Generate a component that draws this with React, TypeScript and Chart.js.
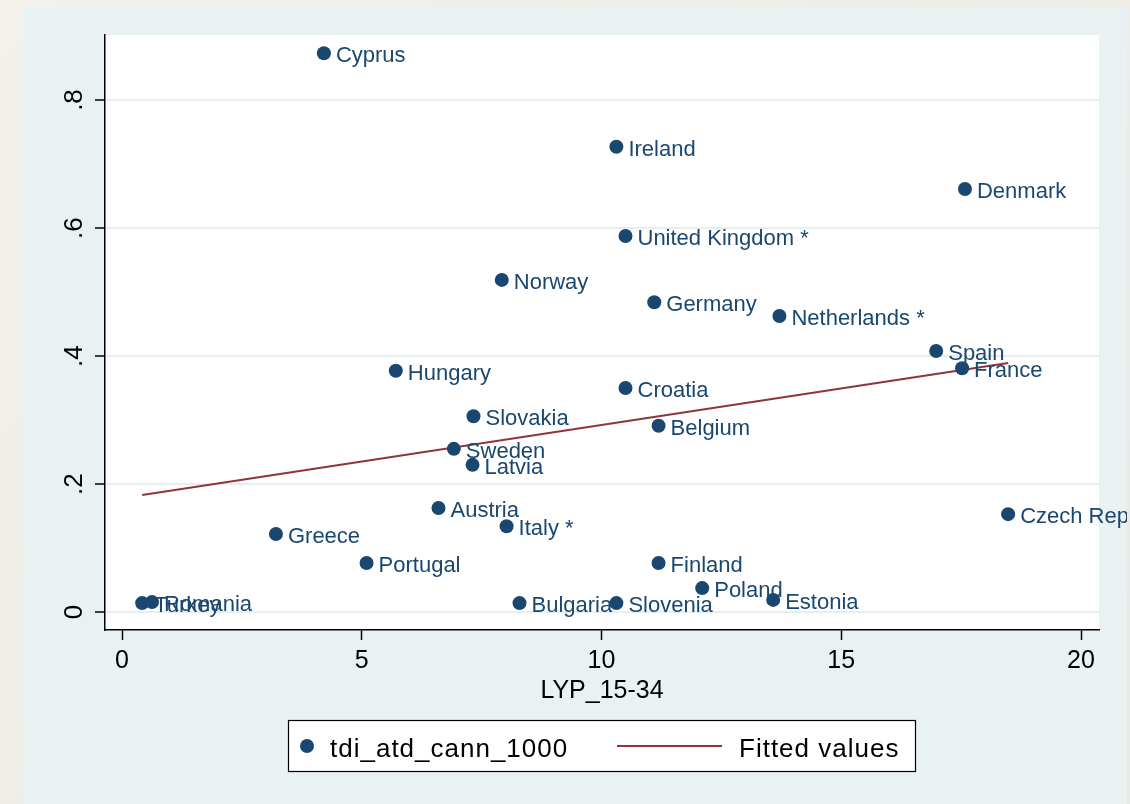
import React, { useEffect, useRef } from "react";
import { Chart, registerables } from "chart.js";

Chart.register(...registerables);

const countries = [
  "Cyprus", "Ireland", "Denmark", "United Kingdom *", "Norway", "Germany",
  "Netherlands *", "Spain", "France", "Hungary", "Croatia", "Slovakia",
  "Belgium", "Sweden", "Latvia", "Austria", "Italy *", "Greece",
  "Czech Republic", "Portugal", "Finland", "Poland", "Estonia", "Bulgaria",
  "Slovenia", "Turkey", "Romania",
];
const lypValues = [
  4.21, 10.31, 17.58, 10.5, 7.92, 11.1, 13.71, 16.98, 17.52, 5.71, 10.5, 7.33,
  11.19, 6.92, 7.31, 6.6, 8.02, 3.21, 18.48, 5.1, 11.19, 12.1, 13.58, 8.29,
  10.31, 0.42, 0.625,
];
const tdiValues = [
  0.873, 0.727, 0.661, 0.5875, 0.519, 0.484, 0.4625, 0.408, 0.381, 0.377, 0.35,
  0.306, 0.291, 0.255, 0.23, 0.1625, 0.134, 0.122, 0.153, 0.0766, 0.0766,
  0.0375, 0.019, 0.014, 0.014, 0.014, 0.0156,
];
const fittedX = [0.42, 18.48];
const fittedY = [0.183, 0.389];
const xTickValues = [0, 5, 10, 15, 20];
const yTickValues = [0, 0.2, 0.4, 0.6, 0.8];
const yTickLabels = ["0", ".2", ".4", ".6", ".8"];
const xAxisTitle = "LYP_15-34";
const legendLabels = ["tdi_atd_cann_1000", "Fitted values"];

const NAVY = "#1a476f";
const MAROON = "#90353b";
const FONT = '"Liberation Sans", Arial, Helvetica, sans-serif';

const W = 1130;
const H = 804;

const customDraw = {
  id: "customDraw",
  beforeDatasetsDraw(chart: any) {
    const { ctx, chartArea } = chart;
    // nothing here; background handled in beforeDraw
  },
  beforeDraw(chart: any) {
    const { ctx, chartArea } = chart;
    ctx.save();
    ctx.fillStyle = "#ffffff";
    ctx.fillRect(chartArea.left, chartArea.top, chartArea.right - chartArea.left, chartArea.bottom - chartArea.top);
    ctx.restore();
  },
  afterDraw(chart: any) {
    const { ctx } = chart;
    const xs = chart.scales.x;
    const ys = chart.scales.y;
    ctx.save();
    // point labels
    ctx.beginPath();
    ctx.rect(0, 0, 1127, H);
    ctx.clip();
    ctx.font = `22px ${FONT}`;
    ctx.fillStyle = NAVY;
    ctx.textAlign = "left";
    ctx.textBaseline = "alphabetic";
    countries.forEach((name, i) => {
      const px = xs.getPixelForValue(lypValues[i]);
      const py = ys.getPixelForValue(tdiValues[i]);
      ctx.fillText(name, px + 12, py + 9);
    });
    ctx.restore();

    ctx.save();
    ctx.fillStyle = "#000";
    // x tick labels
    ctx.font = `25px ${FONT}`;
    ctx.textAlign = "center";
    ctx.textBaseline = "alphabetic";
    xTickValues.forEach((v) => {
      ctx.fillText(String(v), xs.getPixelForValue(v), 668);
    });
    // x title
    ctx.fillText(xAxisTitle, (chart.chartArea.left + chart.chartArea.right) / 2, 698);
    // y tick labels rotated
    ctx.font = `26px ${FONT}`;
    yTickValues.forEach((v, i) => {
      const py = ys.getPixelForValue(v);
      ctx.save();
      ctx.translate(82, py);
      ctx.rotate(-Math.PI / 2);
      ctx.textAlign = "center";
      ctx.fillText(yTickLabels[i], 0, 0);
      ctx.restore();
    });
    ctx.restore();

    // legend
    ctx.save();
    ctx.fillStyle = "#ffffff";
    ctx.fillRect(288, 720, 628, 52);
    ctx.strokeStyle = "#000";
    ctx.lineWidth = 1.2;
    ctx.strokeRect(288.5, 720.5, 627, 51);
    ctx.fillStyle = NAVY;
    ctx.beginPath();
    ctx.arc(307, 746, 7, 0, Math.PI * 2);
    ctx.fill();
    ctx.strokeStyle = MAROON;
    ctx.lineWidth = 2;
    ctx.beginPath();
    ctx.moveTo(617, 746);
    ctx.lineTo(722, 746);
    ctx.stroke();
    ctx.fillStyle = "#000";
    ctx.font = `26px ${FONT}`;
    try {
      (ctx as any).letterSpacing = "1px";
    } catch (e) {}
    ctx.textAlign = "left";
    ctx.textBaseline = "alphabetic";
    ctx.fillText(legendLabels[0], 330, 757);
    ctx.fillText(legendLabels[1], 739, 757);
    ctx.restore();
  },
};

export default function App() {
  const canvasRef = useRef<HTMLCanvasElement | null>(null);

  useEffect(() => {
    document.body.style.margin = "0";
    const canvas = canvasRef.current;
    if (!canvas) return;
    const points = lypValues.map((x, i) => ({ x, y: tdiValues[i] }));
    const fitted = fittedX.map((x, i) => ({ x, y: fittedY[i] }));
    const chart = new Chart(canvas, {
      type: "scatter",
      data: {
        datasets: [
          {
            type: "line",
            label: legendLabels[1],
            data: fitted,
            borderColor: MAROON,
            borderWidth: 2,
            pointRadius: 0,
            fill: false,
            order: 2,
          } as any,
          {
            label: legendLabels[0],
            data: points,
            backgroundColor: NAVY,
            borderWidth: 0,
            pointRadius: 7,
            pointHoverRadius: 7,
            order: 1,
          },
        ],
      },
      plugins: [customDraw],
      options: {
        responsive: false,
        animation: false,
        events: [],
        layout: { padding: { top: 35, right: 31, bottom: 0, left: 0 } },
        plugins: {
          legend: { display: false },
          tooltip: { enabled: false },
          title: { display: false },
        },
        scales: {
          x: {
            type: "linear",
            position: "bottom",
            min: -0.355,
            max: 20.375,
            afterFit: (s: any) => {
              s.height = 174;
            },
            afterBuildTicks: (s: any) => {
              s.ticks = xTickValues.map((v) => ({ value: v }));
            },
            ticks: { display: false },
            grid: {
              drawOnChartArea: false,
              drawTicks: true,
              tickLength: 10,
              tickColor: "#000",
              tickWidth: 1.5,
            },
            border: { display: true, color: "#000", width: 1.5 },
          },
          y: {
            type: "linear",
            min: -0.028,
            max: 0.9016,
            afterFit: (s: any) => {
              s.width = 105;
            },
            afterBuildTicks: (s: any) => {
              s.ticks = yTickValues.map((v) => ({ value: v }));
            },
            ticks: { display: false },
            grid: {
              drawOnChartArea: true,
              color: "#e6eef0",
              lineWidth: 2,
              drawTicks: true,
              tickLength: 10,
              tickColor: "#000",
              tickWidth: 1.5,
            },
            border: { display: true, color: "#000", width: 1.5 },
          },
        },
      },
    } as any);
    return () => chart.destroy();
  }, []);

  return (
    <div
      style={{
        position: "absolute",
        left: 0,
        top: 0,
        width: W,
        height: H,
        background: "linear-gradient(135deg, #f4f1ec 0%, #ebe7e1 100%)",
        overflow: "hidden",
      }}
    >
      <div
        style={{
          position: "absolute",
          left: 24,
          top: 8,
          width: 1103,
          height: H - 8,
          background: "#eaf1f3",
        }}
      />
      <canvas
        ref={canvasRef}
        width={W}
        height={H}
        style={{ position: "absolute", left: 0, top: 0, width: W, height: H }}
      />
    </div>
  );
}
